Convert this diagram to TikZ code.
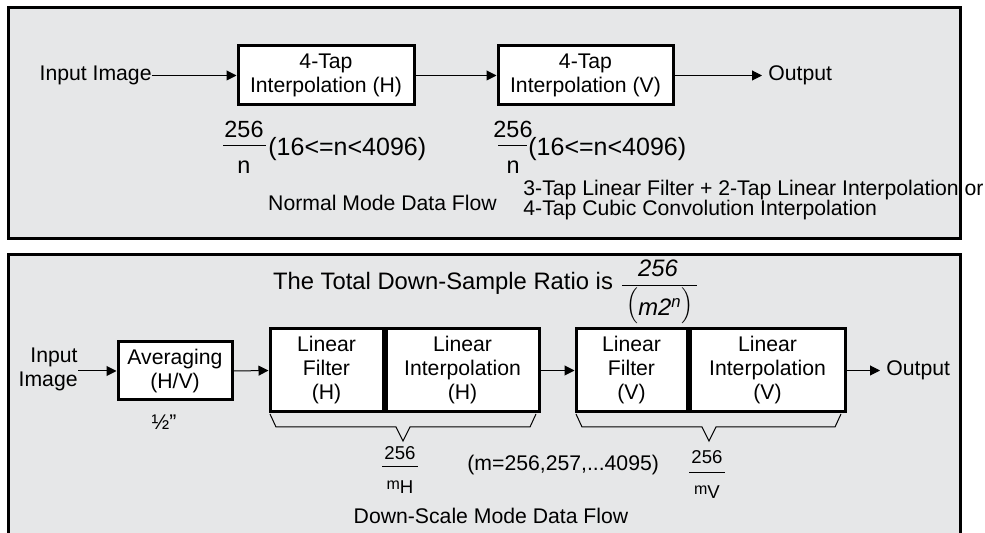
\documentclass[tikz,border=0pt]{standalone}
\usepackage{fontspec}
\setmainfont{Liberation Sans}
\usetikzlibrary{arrows.meta}
\definecolor{panelgray}{HTML}{E6E7E8}
\newcommand\fmain{\fontsize{10.6}{12}\selectfont}
\newcommand\fnote{\fontsize{10.6}{10}\selectfont}
\newcommand\fnum{\fontsize{11.7}{13}\selectfont}
\newcommand\fparen{\fontsize{12.5}{14}\selectfont}
\newcommand\ftitle{\fontsize{11.9}{13}\selectfont}
\newcommand\fsub{\fontsize{9.3}{11}\selectfont}
\begin{document}
\begin{tikzpicture}[x=0.5pt,y=-0.5pt,
  panel/.style={draw=black, line width=1.5pt},
  blk/.style={draw, line width=1.5pt, fill=white, align=center, inner sep=0pt, font=\fmain},
  arr/.style={-{Triangle[length=5pt,width=5pt]}, line width=0.5pt},
  thin/.style={line width=0.5pt},
  lbl/.style={inner sep=0pt, font=\fmain, align=center}]
\useasboundingbox (0,0) rectangle (985,533);
\begin{scope}
\clip (0,0) rectangle (985,533);
\fill[panelgray] (8,8) rectangle (960,239);
\fill[panelgray] (8,255) rectangle (960,560);
\end{scope}

% ---------- top panel ----------
\node[lbl, anchor=east] (in1) at (152,75.5) {Input Image};
\node[blk, minimum width=88pt, minimum height=29.5pt] (bH) at (326,75.5) {4-Tap\\Interpolation (H)};
\node[blk, minimum width=87.5pt, minimum height=29.5pt] (bV) at (585.5,75.5) {4-Tap\\Interpolation (V)};
\node[lbl, anchor=west, inner sep=3pt] (out1) at (762,75.5) {Output};
\draw[arr] (in1.east) -- (bH.west);
\draw[arr] (bH.east) -- (bV.west);
\draw[arr] (bV.east) -- (out1.west);

\node[lbl, font=\fnum] (n1) at (244,129) {256};
\draw[thin] (223,146) -- (266,146);
\node[lbl, font=\fnum] (d1) at (244,167) {n};
\node[lbl, anchor=west, font=\fparen] (p1) at (268,149) {(16<=n<4096)};

\node[lbl, font=\fnum] (n2) at (513,129) {256};
\draw[thin] (498,146) -- (527,146);
\node[lbl, font=\fnum] (d2) at (513,167) {n};
\node[lbl, anchor=west, font=\fparen] (p2) at (528,149) {(16<=n<4096)};

\node[lbl] (nmdf) at (382.5,203) {Normal Mode Data Flow};
\node[lbl, anchor=west, align=left, font=\fnote] (note) at (523,200) {3-Tap Linear Filter + 2-Tap Linear Interpolation or\\4-Tap Cubic Convolution Interpolation};

% ---------- bottom panel ----------
\node[lbl, font=\ftitle] (title) at (443,283) {The Total Down-Sample Ratio is};
\node[lbl, font=\ftitle\itshape] (tn) at (658,268) {256};
\draw[thin] (622,286) -- (697,286);
\node[lbl, font=\ftitle] (td) at (660,306) {$\Bigl($\raisebox{-0.3ex}{\itshape m2\textsuperscript{n}}$\Bigr)$};

\node[lbl, anchor=east, align=right] (in2) at (78,369) {Input\\Image};
\node[blk, minimum width=57pt, minimum height=29pt] (avg) at (175,371) {Averaging\\(H/V)};
\node[blk, minimum width=56.5pt, minimum height=41.5pt] (lfH) at (326.5,370.5) {Linear\\Filter\\(H)};
\node[blk, minimum width=76.5pt, minimum height=41.5pt, anchor=west] (liH) at (lfH.east) {Linear\\Interpolation\\(H)};
\node[blk, minimum width=55.5pt, minimum height=41.5pt] (lfV) at (631.5,370.5) {Linear\\Filter\\(V)};
\node[blk, minimum width=77.5pt, minimum height=41.5pt, anchor=west] (liV) at (lfV.east) {Linear\\Interpolation\\(V)};
\node[lbl, anchor=west, inner sep=3pt] (out2) at (880,370.5) {Output};
\draw[arr] (in2.east |- avg.west) -- (avg.west);
\draw[arr] (avg.east) -- (lfH.west);
\draw[arr] (liH.east) -- (lfV.west);
\draw[arr] (liV.east) -- (out2.west);

\node[lbl] (half) at (164,422) {½"};

% braces
\draw[thin] (270,414) -- (276,427) -- (396,427) -- (403,441) -- (410,427) -- (530,427) -- (536,414);
\draw[thin] (576,414) -- (582,427) -- (702,427) -- (709,441) -- (716,427) -- (835,427) -- (841,414);

\node[lbl, font=\fsub] (fHn) at (400,453) {256};
\draw[thin] (382,467) -- (418,467);
\node[lbl, font=\fsub] (fHd) at (400,487) {{\fontsize{8}{9}\selectfont m}\raisebox{-0.35ex}{H}};

\node[lbl, font=\fsub] (fVn) at (707,457) {256};
\draw[thin] (689,473) -- (725,473);
\node[lbl, font=\fsub] (fVd) at (707,492) {{\fontsize{8}{9}\selectfont m}\raisebox{-0.35ex}{V}};

\node[lbl, anchor=west] (mrange) at (467,465) {(m=256,257,...4095)};
\node[lbl] (dsmdf) at (491,516) {Down-Scale Mode Data Flow};

\begin{scope}
\clip (0,0) rectangle (985,533);
\draw[panel] (8,8) rectangle (960,239);
\draw[panel] (8,255) rectangle (960,560);
\end{scope}
\end{tikzpicture}
\end{document}
